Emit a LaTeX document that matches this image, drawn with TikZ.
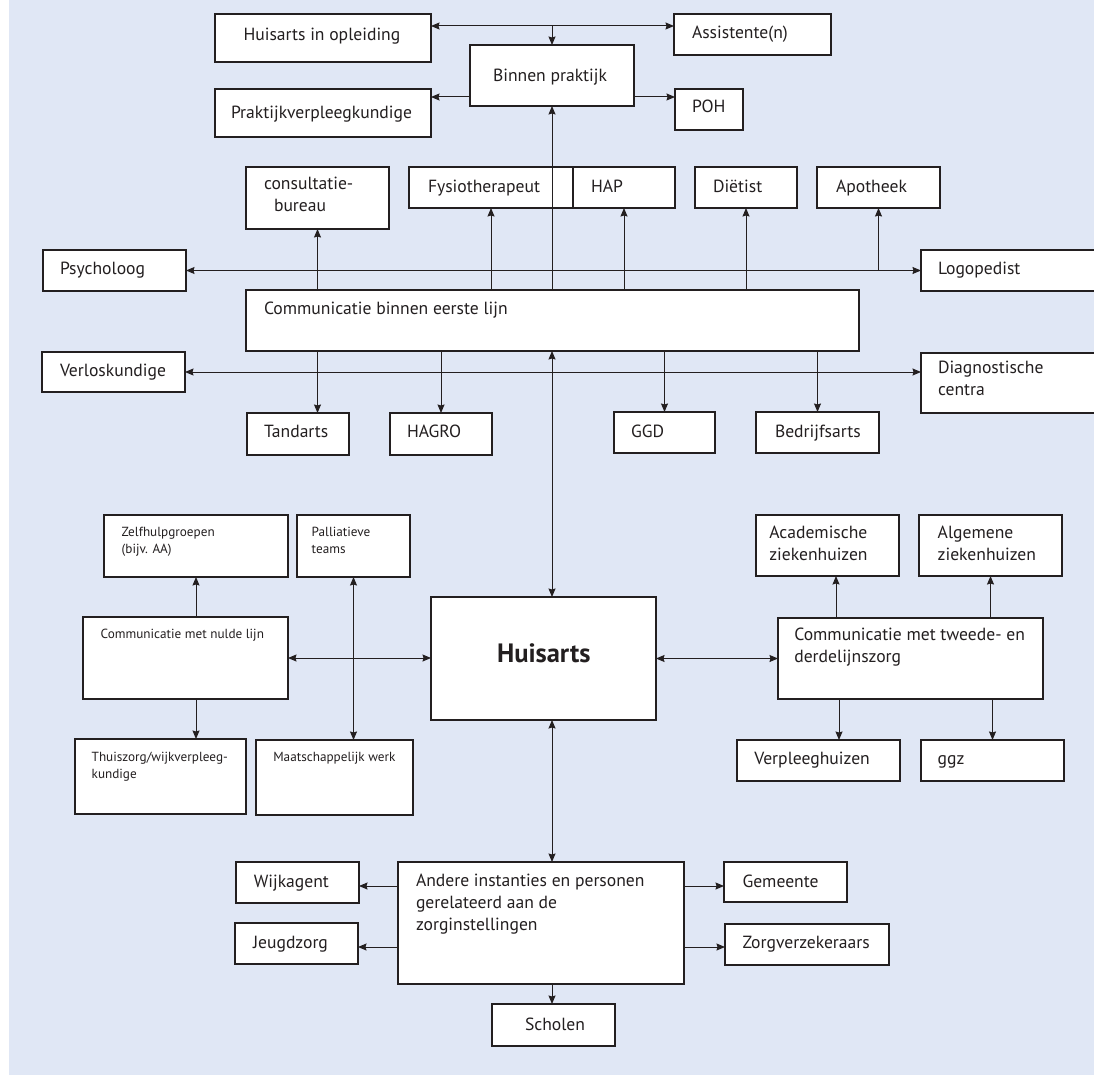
\documentclass[tikz,border=0pt]{standalone}
\usepackage{fontspec}
\setmainfont{PT Sans}
\usetikzlibrary{arrows.meta,calc}
\definecolor{bg}{RGB}{224,231,245}
\definecolor{ink}{RGB}{35,31,32}
\tikzset{
  box/.style={draw=ink,line width=1.2pt,fill=white,inner sep=0pt,outer sep=0pt,rectangle},
  txt/.style={anchor=base west,inner sep=0pt,outer sep=0pt,align=left,text=ink,font=\fontsize{17.6}{21.7}\selectfont},
  small/.style={font=\fontsize{13.2}{17}\selectfont},
  arr/.style={draw=ink,line width=1pt,>={Stealth[length=8.5pt,width=7pt,inset=1pt]}}
}
\newcommand\bx[5]{\node[box,minimum width={(#4-#2)*1pt},minimum height={(#5-#3)*1pt}] (#1) at ({(#2+#4)/2},{(#3+#5)/2}) {};}
\newcommand\tx[5][]{\node[txt,#1] (#2) at (#3,#4) {#5};}
\begin{document}
\begin{tikzpicture}[x=1pt,y=-1pt]
\useasboundingbox (0,0) rectangle (1094,1075);
\fill[bg] (9,0) rectangle (1094,1075);
% boxes
\bx{hio}{215}{14}{431}{62}
\bx{ass}{674}{14}{831}{55}
\bx{bin}{470}{45}{634}{106}
\bx{pvk}{215}{89}{431}{137}
\bx{poh}{675}{89}{743}{130}
\bx{cons}{246}{167}{389}{229}
\bx{fys}{409}{167}{573}{208}
\bx{hap}{573}{167}{675}{208}
\bx{diet}{695}{167}{797}{208}
\bx{apo}{817}{167}{940}{208}
\bx{psy}{43}{250}{186}{291}
\bx{logo}{921}{250}{1100}{291}
\bx{cbel}{246}{290}{859}{351}
\bx{verl}{42}{352}{185}{392}
\bx{diag}{921}{353}{1100}{413}
\bx{tand}{247}{413}{349}{455}
\bx{hagro}{390}{413}{492}{455}
\bx{ggd}{614}{412}{715}{453}
\bx{bedr}{756}{412}{879}{453}
\bx{zelf}{104}{515}{288}{577}
\bx{pall}{297}{515}{410}{577}
\bx{acad}{756}{515}{899}{576}
\bx{alg}{919}{515}{1062}{576}
\bx{huis}{431}{597}{656}{720}
\bx{nul}{83}{617}{288}{699}
\bx{tw}{778}{618}{1043}{699}
\bx{thuis}{75}{739}{246}{814}
\bx{maat}{256}{740}{413}{815}
\bx{verp}{737}{740}{900}{781}
\bx{ggz}{921}{740}{1064}{781}
\bx{andr}{398}{862}{684}{984}
\bx{wijk}{236}{862}{359}{903}
\bx{jeugd}{235}{923}{358}{964}
\bx{gem}{724}{862}{847}{902}
\bx{zorg}{725}{924}{889}{965}
\bx{schol}{492}{1004}{615}{1046}
% texts (multi-line: coordinate is baseline of last line)
\tx{lhio}{243.5}{40.7}{Huisarts in opleiding}
\tx{lass}{692}{39}{Assistente(n)}
\tx{lbin}{493}{82}{Binnen praktijk}
\tx{lpvk}{231}{119}{Praktijkverpleegkundige}
\tx{lpoh}{692}{113}{POH}
\tx{lcons}{264}{211.7}{consultatie-\\\hspace*{10pt}bureau}
\tx{lfys}{428}{192.7}{Fysiotherapeut}
\tx{lhap}{591}{192.7}{HAP}
\tx{ldiet}{713}{192.7}{Diëtist}
\tx{lapo}{836}{192.7}{Apotheek}
\tx{lpsy}{60}{274.3}{Psycholoog}
\tx{llogo}{938}{274}{Logopedist}
\tx{lcbel}{264}{314.3}{Communicatie binnen eerste lijn}
\tx{lverl}{60}{376}{Verloskundige}
\tx{ldiag}{938}{395.5}{Diagnostische\\centra}
\tx{ltand}{264}{437.7}{Tandarts}
\tx{lhagro}{407}{437.7}{HAGRO}
\tx{lggd}{631}{437.7}{GGD}
\tx{lbedr}{775}{437.7}{Bedrijfsarts}
\tx[small]{lzelf}{121.7}{553}{Zelfhulpgroepen\\(bijv. AA)}
\tx[small]{lpall}{311.7}{553}{Palliatieve\\teams}
\tx[small]{lnul}{100.7}{638.3}{Communicatie met nulde lijn}
\tx[small]{lthuis}{91.7}{778}{Thuiszorg/wijkverpleeg-\\kundige}
\tx[small]{lmaat}{273.3}{761.7}{Maatschappelijk werk}
\tx{lacad}{769.3}{560}{Academische\\ziekenhuizen}
\tx{lalg}{937.7}{560}{Algemene\\ziekenhuizen}
\tx{ltw}{794.3}{662}{Communicatie met tweede- en\\derdelijnszorg}
\tx{lverp}{754.3}{764}{Verpleeghuizen}
\tx{lggz}{937.7}{764}{ggz}
\tx{lwijk}{253.8}{887.7}{Wijkagent}
\tx{ljeugd}{253}{948.3}{Jeugdzorg}
\tx{landr}{416}{930}{Andere instanties en personen\\gerelateerd aan de\\zorginstellingen}
\tx{lgem}{742.5}{887.7}{Gemeente}
\tx{lzorg}{742.5}{948.3}{Zorgverzekeraars}
\tx{lschol}{525}{1030.7}{Scholen}
\tx[font=\bfseries\fontsize{26.5}{30}\selectfont]{lhuis}{497}{662.3}{Huisarts}
% helper coordinates
\coordinate (ctop) at (552,26);
\coordinate (cpr) at (552,97);
\coordinate (xa) at (836,0);
\coordinate (xb) at (839,0);
\coordinate (ya) at (0,886);
\coordinate (yb) at (0,947);
% connectors
\draw[arr,<->] (hio.east |- ctop) -- (ass.west |- ctop);
\draw[arr,->] (ctop) -- (bin.north);
\draw[arr,->] (bin.west |- cpr) -- (pvk.east |- cpr);
\draw[arr,->] (bin.east |- cpr) -- (poh.west |- cpr);
\draw[arr,->] (cbel.north -| bin.south) -- (bin.south);
\draw[arr,<->] (cbel.south -| bin.south) -- (huis.north -| bin.south);
\draw[arr,<->] (huis.south -| bin.south) -- (andr.north -| bin.south);
\draw[arr,->] (andr.south -| bin.south) -- (schol.north -| bin.south);
\draw[arr,->] (cbel.north -| cons.south) -- (cons.south);
\draw[arr,->] (cbel.north -| fys.south) -- (fys.south);
\draw[arr,->] (cbel.north -| hap.south) -- (hap.south);
\draw[arr,->] (cbel.north -| diet.south) -- (diet.south);
\draw[arr,<->] (psy.east) -- (logo.west);
\draw[arr,->] (psy.east -| apo.south) -- (apo.south);
\draw[arr,<->] (verl.east) -- (diag.west |- verl.east);
\draw[arr,->] (cbel.south -| cons.south) -- (tand.north -| cons.south);
\draw[arr,->] (cbel.south -| hagro.north) -- (hagro.north);
\draw[arr,->] (cbel.south -| ggd.north) -- (ggd.north);
\draw[arr,->] (cbel.south -| bedr.north) -- (bedr.north);
\draw[arr,->] (nul.north -| zelf.south) -- (zelf.south);
\draw[arr,->] (nul.south -| zelf.south) -- (thuis.north -| zelf.south);
\draw[arr,<->] (pall.south) -- (maat.north -| pall.south);
\draw[arr,<->] (nul.east) -- (huis.west |- nul.east);
\draw[arr,<->] (huis.east) -- (tw.west |- huis.east);
\draw[arr,->] (tw.north -| xa) -- (acad.south -| xa);
\draw[arr,->] (tw.north -| alg.south) -- (alg.south);
\draw[arr,->] (tw.south -| xb) -- (verp.north -| xb);
\draw[arr,->] (tw.south -| ggz.north) -- (ggz.north);
\draw[arr,->] (andr.west |- ya) -- (wijk.east |- ya);
\draw[arr,->] (andr.west |- yb) -- (jeugd.east |- yb);
\draw[arr,->] (andr.east |- ya) -- (gem.west |- ya);
\draw[arr,->] (andr.east |- yb) -- (zorg.west |- yb);
\end{tikzpicture}
\end{document}
